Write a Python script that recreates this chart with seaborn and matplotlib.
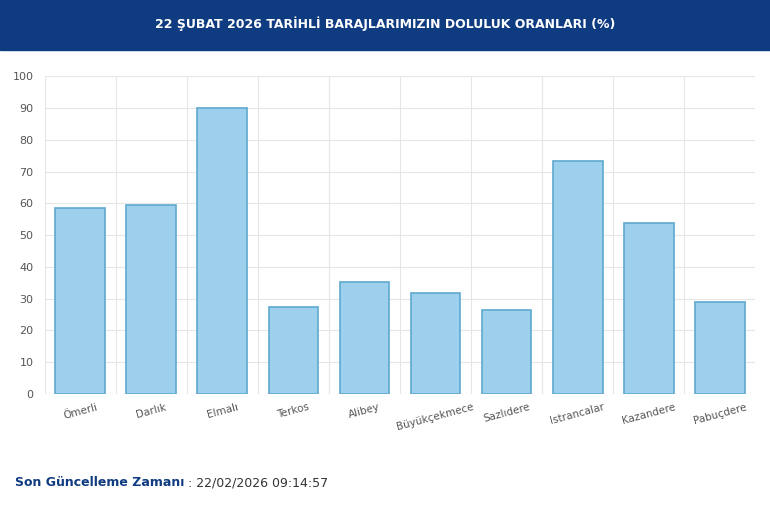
import matplotlib
matplotlib.use("Agg")
import matplotlib.pyplot as plt
import seaborn as sns
import numpy as np
import pandas as pd

categories = ["Ömerli", "Darlık", "Elmalı", "Terkos", "Alibey", "Büyükçekmece",
              "Sazlıdere", "Istrancalar", "Kazandere", "Pabuçdere"]
values = [58.6, 59.5, 89.9, 27.5, 35.3, 31.9, 26.4, 73.3, 53.8, 29.0]
yticks = list(range(0, 101, 10))

sns.set_theme(style="white")
plt.rcParams["font.family"] = ["DejaVu Sans"]

fig = plt.figure(figsize=(7.7, 5.05), dpi=100)
fig.patch.set_facecolor("white")
fig.add_artist(plt.Rectangle((0, 1 - 50/505), 1, 50/505, transform=fig.transFigure,
                             color="#0f3b80", zorder=0))
fig.text(0.5, 1 - 24/505, "22 ŞUBAT 2026 TARİHLİ BARAJLARIMIZIN DOLULUK ORANLARI (%)",
         ha="center", va="center", color="white", fontsize=9, fontweight="bold")

ax = fig.add_axes([0.058, 0.22, 0.923, 0.629])
df = pd.DataFrame({"baraj": categories, "oran": values})
sns.barplot(data=df, x="baraj", y="oran", ax=ax, color="#9dd0ec", width=0.7,
            edgecolor="#5ea9cf", linewidth=1.2, saturation=1)
ax.set_ylim(0, 100)
ax.set_xlim(-0.5, len(categories) - 0.5)
ax.set_yticks(yticks)
ax.set_xlabel("")
ax.set_ylabel("")
ax.yaxis.grid(True, color="#e6e6e6", linewidth=0.8)
for b in np.arange(-0.5, len(categories), 1.0):
    ax.axvline(b, color="#e6e6e6", linewidth=0.8, zorder=0)
ax.set_axisbelow(True)
for s in ax.spines.values():
    s.set_visible(False)
ax.tick_params(axis="y", labelsize=8, colors="#555555", length=0, pad=8)
ax.tick_params(axis="x", labelsize=7.5, colors="#555555", length=0, pad=6)
plt.setp(ax.get_xticklabels(), rotation=15)

t1 = fig.text(0.02, 1 - 483/505, "Son Güncelleme Zamanı", color="#0f3b80", fontsize=9,
              fontweight="bold", va="center")
fig.canvas.draw()
bb = t1.get_window_extent(fig.canvas.get_renderer())
x2 = fig.transFigure.inverted().transform((bb.x1 + 3, 0))[0]
fig.text(x2, 1 - 483/505, ": 22/02/2026 09:14:57", color="#333333", fontsize=9, va="center")

fig.savefig("out.png", dpi=100)
